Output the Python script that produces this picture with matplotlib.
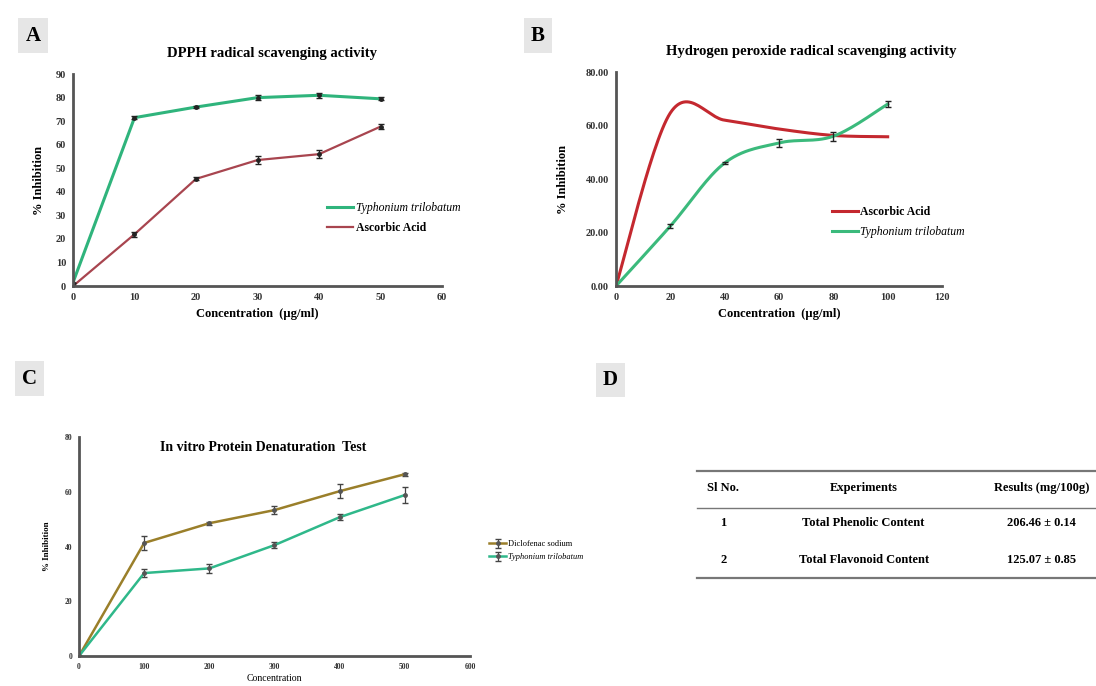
import numpy as np
import matplotlib
matplotlib.use("Agg")
import matplotlib.pyplot as plt

plt.rcParams['font.family'] = ['Liberation Serif', 'DejaVu Serif']

# Panel A - DPPH
dpph_conc = [0, 10, 20, 30, 40, 50]
dpph_typh = [1.5, 71.5, 76, 80, 81, 79.5]
dpph_typh_err = [0, 0.6, 0.6, 1.2, 1.0, 0.6]
dpph_asc = [0, 22, 45.5, 53.5, 56, 67.7]
dpph_asc_err = [0, 1.0, 0.6, 1.8, 1.8, 1.2]

# Panel B - hydrogen peroxide
h2o2_conc = [0, 20, 40, 60, 80, 100]
h2o2_asc = [0, 64.7, 62, 58.7, 56.3, 55.8]
h2o2_typh = [0, 22.4, 46, 53.5, 56, 68]
h2o2_typh_err = [0, 0.8, 0.5, 1.6, 1.6, 1.0]

# Panel C - protein denaturation
prot_conc = [0, 100, 200, 300, 400, 500]
prot_diclo = [0, 41.3, 48.5, 53.3, 60.2, 66.4]
prot_diclo_err = [0, 2.5, 0.6, 1.5, 2.5, 0.6]
prot_typh = [0, 30.3, 32, 40.5, 50.7, 58.8]
prot_typh_err = [0, 1.5, 1.5, 1.0, 1.0, 2.8]

# Panel D - table
tbl_header = ['Sl No.', 'Experiments', 'Results (mg/100g)']
tbl_no = ['1', '2']
tbl_exp = ['Total Phenolic Content', 'Total Flavonoid Content']
tbl_res = ['206.46 \u00b1 0.14', '125.07 \u00b1 0.85']


def smooth(x, y, n=30):
    # Catmull-Rom through the points, like a spreadsheet "smoothed line"
    p = np.column_stack([x, y]).astype(float)
    p = np.vstack([p[0], p, p[-1]])
    out = []
    for i in range(1, len(p) - 2):
        p0, p1, p2, p3 = p[i - 1], p[i], p[i + 1], p[i + 2]
        t = np.linspace(0, 1, n)[:, None]
        seg = 0.5 * ((2 * p1) + (-p0 + p2) * t + (2 * p0 - 5 * p1 + 4 * p2 - p3) * t ** 2
                     + (-p0 + 3 * p1 - 3 * p2 + p3) * t ** 3)
        out.append(seg)
    s = np.vstack(out)
    return s[:, 0], s[:, 1]


def style_axes(ax, tick_size=8):
    for s in ['top', 'right']:
        ax.spines[s].set_visible(False)
    for s in ['left', 'bottom']:
        ax.spines[s].set_color('#555555')
        ax.spines[s].set_linewidth(2)
    ax.tick_params(length=0, labelsize=tick_size, pad=5, colors='#333333')
    for lab in ax.get_xticklabels() + ax.get_yticklabels():
        lab.set_fontweight('bold')


def panel_label(x, y, letter):
    fig.text(x, y, letter, fontsize=15, fontweight='bold', ha='center', va='center',
             bbox=dict(boxstyle='square,pad=0.35', fc='#e6e6e6', ec='none'))


fig = plt.figure(figsize=(10.96, 6.86), dpi=100)

green = '#2fb47c'
maroon = '#a8454f'
red = '#c4282f'

# ---- A
axA = fig.add_axes([0.0666, 0.583, 0.3367, 0.309])
axA.plot(dpph_conc, dpph_typh, color=green, lw=2.2, label='Typhonium trilobatum')
axA.plot(dpph_conc, dpph_asc, color=maroon, lw=1.6, label='Ascorbic Acid')
axA.errorbar(dpph_conc, dpph_typh, yerr=dpph_typh_err, fmt='o', ms=2.5, color='#222222',
             elinewidth=1, capsize=2)
axA.errorbar(dpph_conc, dpph_asc, yerr=dpph_asc_err, fmt='o', ms=2.5, color='#222222',
             elinewidth=1, capsize=2)
axA.set_xlim(0, 60)
axA.set_ylim(0, 90)
axA.set_xticks(range(0, 61, 10))
axA.set_yticks(range(0, 91, 10))
style_axes(axA, 7.5)
axA.set_xlabel('Concentration  (\u00b5g/ml)', fontsize=9, fontweight='bold', labelpad=4)
axA.set_ylabel('% Inhibition', fontsize=9, fontweight='bold', labelpad=8)
axA.set_title('DPPH radical scavenging activity', fontsize=10.5, fontweight='bold', pad=12, x=0.54)
legA = axA.legend(loc='center left', bbox_to_anchor=(0.66, 0.32), frameon=False, fontsize=8.5,
                  handlelength=2.2, handletextpad=0.2, labelspacing=0.7)
legA.get_texts()[0].set_fontstyle('italic')
legA.get_texts()[1].set_fontweight('bold')
panel_label(0.030, 0.948, 'A')

# ---- B
axB = fig.add_axes([0.562, 0.583, 0.2975, 0.312])
sx, sy = smooth(h2o2_conc, h2o2_asc)
axB.plot(sx, sy, color=red, lw=2.2, label='Ascorbic Acid')
sx, sy = smooth(h2o2_conc, h2o2_typh)
axB.plot(sx, sy, color='#3bba7c', lw=2.2, label='Typhonium trilobatum')
axB.errorbar(h2o2_conc, h2o2_typh, yerr=h2o2_typh_err, fmt='none', color='#222222',
             elinewidth=1, capsize=2)
axB.set_xlim(0, 120)
axB.set_ylim(0, 80)
axB.set_xticks(range(0, 121, 20))
axB.set_yticks(range(0, 81, 20))
axB.set_yticklabels([f'{v:.2f}' for v in range(0, 81, 20)])
style_axes(axB, 7.5)
axB.set_xlabel('Concentration  (\u00b5g/ml)', fontsize=9, fontweight='bold', labelpad=4)
axB.set_ylabel('% Inhibition', fontsize=9, fontweight='bold', labelpad=12)
axB.set_title('Hydrogen peroxide radical scavenging activity', fontsize=10.5, fontweight='bold',
              pad=12, x=0.6)
legB = axB.legend(loc='center left', bbox_to_anchor=(0.63, 0.30), frameon=False, fontsize=8.5,
                  handlelength=2.2, handletextpad=0.2, labelspacing=0.7)
legB.get_texts()[0].set_fontweight('bold')
legB.get_texts()[1].set_fontstyle('italic')
panel_label(0.491, 0.948, 'B')

# ---- C
axC = fig.add_axes([0.0721, 0.0437, 0.3567, 0.3193])
olive = '#9a7f2a'
tealC = '#2fb88a'
axC.errorbar(prot_conc, prot_diclo, yerr=prot_diclo_err, color=olive, lw=1.8, marker='o', ms=2.5,
             mfc='#555555', mec='#555555', ecolor='#444444', elinewidth=0.9, capsize=2,
             label='Diclofenac sodium')
axC.errorbar(prot_conc, prot_typh, yerr=prot_typh_err, color=tealC, lw=1.8, marker='o', ms=2.5,
             mfc='#555555', mec='#555555', ecolor='#444444', elinewidth=0.9, capsize=2,
             label='Typhonium trilobatum')
axC.set_xlim(0, 600)
axC.set_ylim(0, 80)
axC.set_xticks(range(0, 601, 100))
axC.set_yticks(range(0, 81, 20))
style_axes(axC, 5.5)
axC.set_xlabel('Concentration', fontsize=7, labelpad=2)
axC.set_ylabel('% Inhibition', fontsize=6.5, fontweight='bold', labelpad=10)
axC.text(0.47, 0.98, 'In vitro Protein Denaturation  Test', transform=axC.transAxes,
         fontsize=10, fontweight='bold', ha='center', va='top')
legC = axC.legend(loc='center left', bbox_to_anchor=(1.03, 0.48), frameon=False, fontsize=6,
                  handlelength=2.0, handletextpad=0.2, labelspacing=0.6)
legC.get_texts()[1].set_fontstyle('italic')
panel_label(0.027, 0.448, 'C')

# ---- D
panel_label(0.557, 0.446, 'D')
col_x = [0.660, 0.788, 0.950]
fig.add_artist(plt.Line2D([0.636, 1.0], [0.314, 0.314], color='#777777', lw=1.6))
fig.add_artist(plt.Line2D([0.636, 1.0], [0.259, 0.259], color='#777777', lw=1.0))
fig.add_artist(plt.Line2D([0.636, 1.0], [0.157, 0.157], color='#777777', lw=1.6))
for x, h in zip(col_x, tbl_header):
    fig.text(x, 0.288, h, fontsize=9, fontweight='bold', ha='center', va='center')
for i, (n, e, r) in enumerate(zip(tbl_no, tbl_exp, tbl_res)):
    yy = 0.237 - i * 0.054
    fig.text(col_x[0], yy, n, fontsize=9, fontweight='bold', ha='center', va='center')
    fig.text(col_x[1], yy, e, fontsize=9, fontweight='bold', ha='center', va='center')
    fig.text(col_x[2], yy, r, fontsize=9, fontweight='bold', ha='center', va='center')

fig.savefig('out.png', dpi=100)
